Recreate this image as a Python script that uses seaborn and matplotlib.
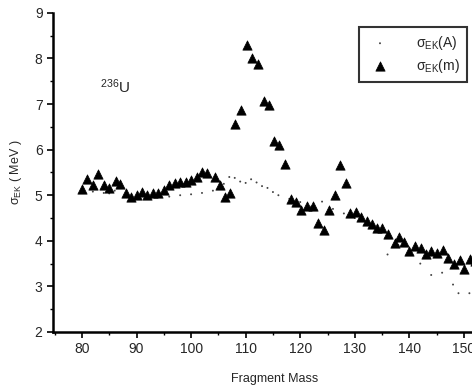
import matplotlib
matplotlib.use("Agg")
import matplotlib.pyplot as plt
from matplotlib.ticker import MultipleLocator
import pandas as pd
import seaborn as sns

# sigma_EK(m): triangles
mass_m = [80.0, 81.0, 82.0, 83.0, 84.0, 85.0, 86.2, 87.0, 88.0, 89.0, 90.0, 91.0,
          92.0, 93.0, 94.0, 95.0, 96.0, 97.0, 98.0, 99.0, 100.0, 101.0, 102.0, 103.0,
          104.3, 105.3, 106.3, 107.2, 108.1, 109.2, 110.2, 111.2, 112.2, 113.3, 114.2,
          115.2, 116.2, 117.3, 118.3, 119.2, 120.2, 121.2, 122.3, 123.2, 124.3, 125.3,
          126.3, 127.2, 128.3, 129.2, 130.3, 131.2, 132.2, 133.1, 134.1, 135.0, 136.1,
          137.3, 138.1, 139.1, 140.0, 141.1, 142.1, 143.0, 144.0, 145.0, 146.1, 147.0,
          148.1, 149.2, 150.1, 151.1, 152.0]
sigma_m = [5.13, 5.35, 5.23, 5.46, 5.23, 5.16, 5.32, 5.25, 5.05, 4.97, 5.00, 5.08,
           5.00, 5.04, 5.04, 5.12, 5.23, 5.27, 5.29, 5.30, 5.34, 5.41, 5.50, 5.48,
           5.39, 5.23, 4.95, 5.04, 6.56, 6.87, 8.30, 8.02, 7.87, 7.07, 6.98,
           6.19, 6.10, 5.68, 4.92, 4.86, 4.68, 4.77, 4.77, 4.39, 4.24, 4.68,
           5.01, 5.67, 5.27, 4.62, 4.64, 4.53, 4.43, 4.36, 4.28, 4.29, 4.15,
           3.96, 4.09, 3.98, 3.78, 3.89, 3.84, 3.71, 3.77, 3.74, 3.80, 3.63,
           3.50, 3.57, 3.39, 3.60, 3.56]

# sigma_EK(A): small dots
mass_a = [80, 82, 84, 85, 86, 88, 90, 92, 94, 96, 98, 100, 102, 104, 106, 107, 108,
          109, 110, 111, 112, 113, 114, 115, 116, 118, 120, 122, 124, 126, 128, 130,
          132, 134, 136, 138, 140, 142, 144, 146, 148, 149, 151]
sigma_a = [5.05, 5.08, 5.05, 5.04, 5.10, 5.00, 4.98, 4.98, 4.98, 4.97, 5.00, 5.02,
           5.05, 5.10, 5.25, 5.40, 5.38, 5.30, 5.27, 5.35, 5.28, 5.20, 5.16, 5.07,
           5.00, 4.92, 4.85, 4.75, 4.86, 4.70, 4.60, 4.50, 4.35, 4.20, 3.70, 3.90,
           3.70, 3.50, 3.25, 3.30, 3.04, 2.85, 2.85]

sns.set_style("ticks")
plt.rcParams["font.family"] = ["Liberation Sans", "DejaVu Sans"]
plt.rcParams["mathtext.fontset"] = "custom"
plt.rcParams["mathtext.rm"] = "Liberation Sans"
plt.rcParams["mathtext.it"] = "Liberation Sans"

df_m = pd.DataFrame({"mass": mass_m, "sigma": sigma_m})
df_a = pd.DataFrame({"mass": mass_a, "sigma": sigma_a})

fig = plt.figure(figsize=(4.72, 3.91), dpi=100)
ax = fig.add_axes([0.1123, 0.151, 0.94, 0.816])

sns.scatterplot(data=df_a, x="mass", y="sigma", ax=ax, marker="o", s=2,
                color="#444444", edgecolor="none", label=r"$\sigma_{EK}$(A)")
sns.scatterplot(data=df_m, x="mass", y="sigma", ax=ax, marker="^", s=45,
                color="black", edgecolor="black", linewidth=0.5, label=r"$\sigma_{EK}$(m)")

ax.set_xlim(74.7, 156)
ax.set_ylim(2, 9)
ax.xaxis.set_major_locator(MultipleLocator(10))
ax.xaxis.set_minor_locator(MultipleLocator(5))
ax.yaxis.set_major_locator(MultipleLocator(1))
ax.yaxis.set_minor_locator(MultipleLocator(0.5))
ax.tick_params(which="major", length=4, width=1.2, labelsize=10, color="black")
ax.tick_params(which="minor", length=2.5, width=1.0, color="black")

for side in ["top", "right"]:
    ax.spines[side].set_visible(False)
for side in ["left", "bottom"]:
    ax.spines[side].set_linewidth(1.8)
    ax.spines[side].set_color("black")

ax.set_xlabel("Fragment Mass", fontsize=9, labelpad=12)
ax.set_ylabel(r"$\sigma_{EK}$ ( MeV )", fontsize=9, labelpad=8)

ax.text(83.3, 7.25, r"$^{236}$U", fontsize=11)

leg = ax.legend(loc="upper left", bbox_to_anchor=(0.69, 0.956), frameon=True,
                fancybox=False, edgecolor="black", fontsize=10, markerscale=1.0,
                handletextpad=1.6, borderpad=0.5, labelspacing=0.35,
                borderaxespad=0)
leg.get_frame().set_linewidth(1.5)

fig.savefig("out.png", dpi=100)
